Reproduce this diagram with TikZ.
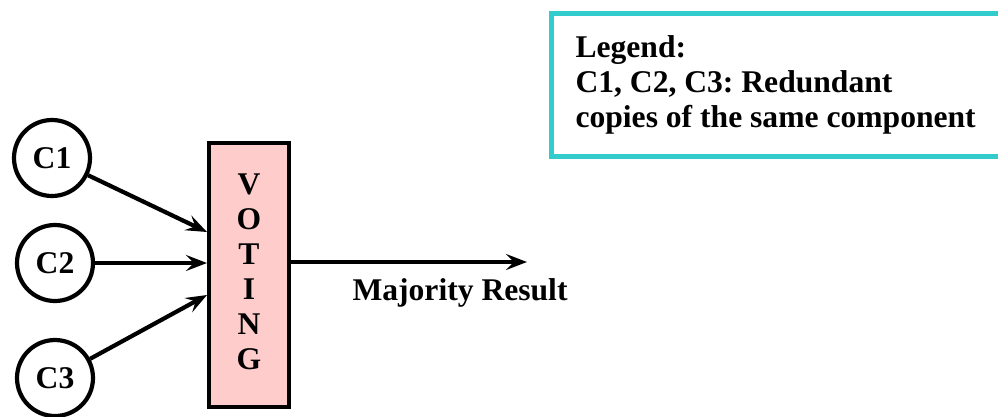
\documentclass[tikz,border=0pt]{standalone}
\usepackage{fontspec}
\setmainfont{Liberation Serif}
\frenchspacing
\usetikzlibrary{arrows.meta}
\definecolor{votepink}{HTML}{FFCCCC}
\definecolor{legteal}{HTML}{33CCCC}
\tikzset{
  big/.style={font=\fontsize{31.6}{35}\selectfont\bfseries},
  comp/.style={circle, draw, line width=4.2pt, minimum size=76pt, inner sep=0pt, big},
  arr/.style={line width=4.2pt, -{Stealth[length=21pt,width=16pt,inset=8pt]}},
  votebox/.style={draw, line width=4.5pt, fill=votepink, minimum width=80pt, minimum height=264pt, inner sep=0pt},
  legbox/.style={draw=legteal, line width=5pt, fill=white}
}
\begin{document}
\begin{tikzpicture}[x=1pt,y=-1pt]
\useasboundingbox (0,0) rectangle (998,416);
% legend
\draw[legbox] (551,13) rectangle (1010,156);
\node[big, anchor=base west] (leg1) at (572,57) {Legend:};
\node[big, anchor=base west] (leg2) at (572,92) {C1, C2, C3: Redundant};
\node[big, anchor=base west] (leg3) at (572,127) {copies of the same component};
% components
\node[comp] (c1) at (52,158) {C1};
\node[comp] (c2) at (55,263) {C2};
\node[comp] (c3) at (55,378) {C3};
% voting box
\node[votebox] (vote) at (249,275) {};
\node[big, align=center, inner sep=0pt] (votetxt) at (249,272) {V\\O\\T\\I\\N\\G};
\coordinate (in1) at (207,232);
\coordinate (in2) at (207,263);
\coordinate (in3) at (207,295);
\draw[arr] (c1) -- (in1);
\draw[arr] (c2) -- (in2);
\draw[arr] (c3) -- (in3);
% output
\coordinate (out) at (291,262);
\coordinate (res) at (527,262);
\draw[arr] (out) -- (res);
\node[big, anchor=base west] (maj) at (349,300) {Majority Result};
\end{tikzpicture}
\end{document}
